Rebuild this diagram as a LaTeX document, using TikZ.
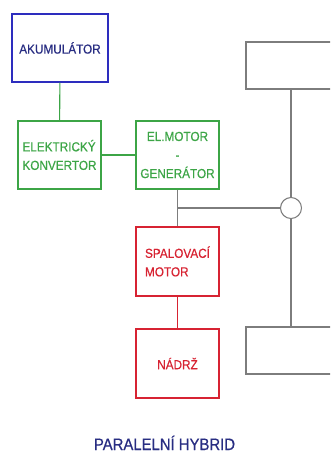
\documentclass[tikz,border=0pt]{standalone}
\usepackage{fontspec}
\setmainfont{Liberation Sans}
\newfontfamily\popis{Liberation Sans}[FakeStretch=0.9,FakeBold=0.6]

\definecolor{modra}{RGB}{45,45,190}
\definecolor{tmavomodra}{RGB}{40,45,130}
\definecolor{zelena}{RGB}{60,165,70}
\definecolor{cervena}{RGB}{215,35,50}
\definecolor{seda}{RGB}{125,125,125}

\begin{document}
\begin{tikzpicture}[x=0.75pt,y=-0.75pt,
  blok/.style={draw,line width=0.8pt,inner sep=0pt,minimum width=62.25pt,
    minimum height=51pt,font=\popis\fontsize{9.8}{13.9}\selectfont},
  naprava/.style={draw=seda,line width=0.8pt,minimum width=75pt,minimum height=35.25pt},
  spoj/.style={line width=0.8pt}]

\clip (0,0) rectangle (330,453);

% Elektricka cast
\node[blok,draw=modra,text=tmavomodra,minimum width=72pt] (aku) at (60,48) {AKUMULÁTOR};
\node[blok,draw=zelena,text=zelena,align=left] (konv) at (59.5,155) {ELEKTRICKÝ\\KONVERTOR};
\node[blok,draw=zelena,text=zelena,align=center] (elmot) at (177.5,155) {EL.MOTOR\\-\\GENERÁTOR};

% Spalovaci cast
\node[blok,draw=cervena,text=cervena,align=left,minimum height=51.75pt] (spal) at (177.5,261.5) {SPALOVACÍ\\MOTOR};
\node[blok,draw=cervena,text=cervena,minimum height=51.75pt] (nadrz) at (177.5,363.5) {NÁDRŽ};

% Napravy
\node[naprava] (naprava1) at (296,65.5) {};
\node[naprava] (naprava2) at (296,350.5) {};
\node[draw=seda,line width=0.8pt,circle,minimum size=15.75pt,inner sep=0pt] (kolo) at (291,208) {};

% Spoje
\draw[spoj,zelena] (aku) -- (konv);
\draw[spoj,zelena] (konv) -- (elmot);
\draw[spoj,seda] (elmot) -- (spal);
\draw[spoj,seda] (elmot.south |- kolo.west) -- (kolo.west);
\draw[spoj,cervena] (spal) -- (nadrz);
\draw[spoj,seda] (naprava1.south -| kolo) -- (kolo.north);
\draw[spoj,seda] (kolo.south) -- (kolo.south |- naprava2.north);

\node[anchor=base,text=tmavomodra,font=\popis\fontsize{12.4}{14}\selectfont] (nadpis) at (164.5,450) {PARALELNÍ HYBRID};

\end{tikzpicture}
\end{document}
